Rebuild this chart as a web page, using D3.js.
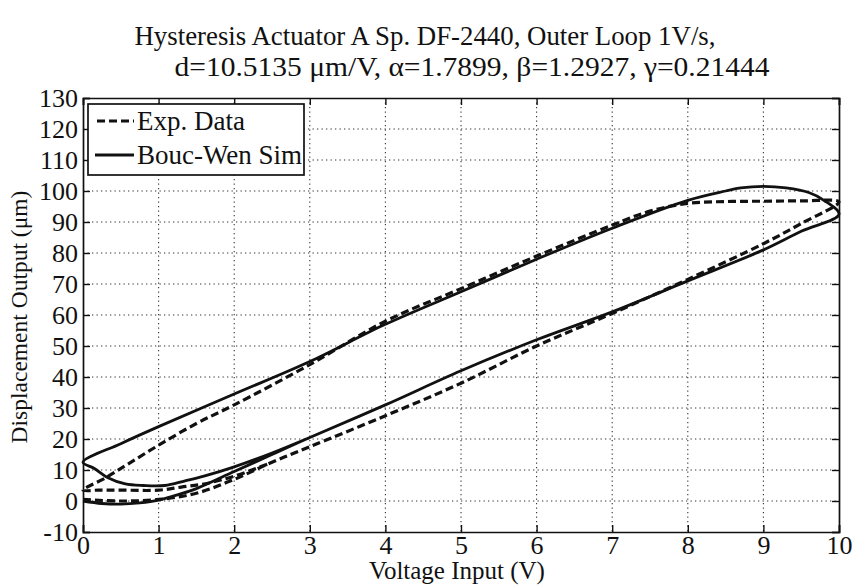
<!DOCTYPE html>
<html>
<head>
<meta charset="utf-8">
<script src="https://cdn.jsdelivr.net/npm/d3@7/dist/d3.min.js"></script>
<style>
  html, body { margin: 0; padding: 0; background: #ffffff; }
  svg { display: block; }
  svg text { font-family: "Liberation Serif", Tinos, "Times New Roman", Times, "DejaVu Serif", "Noto Serif", serif !important; fill: #111; }
</style>
</head>
<body>
<svg id="chart" width="855" height="585"></svg>
<script>
// ---- Data ----
const titleLines = [
  "Hysteresis Actuator A Sp. DF-2440, Outer Loop 1V/s,",
  "d=10.5135 \u03BCm/V, \u03B1=1.7899, \u03B2=1.2927, \u03B3=0.21444"
];
const xLabel = "Voltage Input (V)";
const yLabel = "Displacement Output (\u03BCm)";
const xTicks = [0, 1, 2, 3, 4, 5, 6, 7, 8, 9, 10];
const yTicks = [-10, 0, 10, 20, 30, 40, 50, 60, 70, 80, 90, 100, 110, 120, 130];
const seriesNames = ["Exp. Data", "Bouc-Wen Sim"];

// Experimental data (dashed): lower branch up, upper branch down, start of second ascent
const expX = [0, 0.5, 1, 1.5, 2, 2.5, 3, 4, 5, 6, 7, 8, 9, 9.5, 10,
              9.5, 9, 8.5, 8, 7.5, 7, 6, 5, 4, 3, 2, 1.5, 1, 0.6, 0.3, 0,
              0.2, 0.5, 1, 1.3, 1.6, 2, 2.5];
const expY = [0.5, 0, 0.5, 2.5, 7, 12.5, 17.5, 27.5, 38, 50, 60.5, 71.5, 83, 89.5, 96.5,
              96.8, 96.7, 96.6, 96, 93.5, 89, 79, 68.5, 58, 44, 31, 25, 18, 12, 7.5, 3.5,
              3.5, 3.5, 3.5, 4.5, 5.5, 8, 12.5];

// Bouc-Wen simulation (solid)
const simX = [0, 0.25, 0.5, 0.75, 1, 1.25, 1.5, 2, 2.5, 3, 4, 5, 6, 7, 8, 9, 9.5, 10,
              9.8, 9.6, 9.3, 9, 8.7, 8.5, 8, 7, 6, 5, 4, 3, 2, 1, 0.5, 0,
              0.15, 0.33, 0.56, 0.8, 1.08, 1.35, 1.6, 2, 2.5, 3];
const simY = [0, -0.8, -1, -0.6, 0.3, 2, 4, 9.5, 15, 20.5, 31, 42, 52, 61, 71, 81, 87, 92.5,
              97, 99.5, 101, 101.5, 101, 100, 97, 88, 78, 67.5, 57, 45, 34.5, 24, 18.5, 12.5,
              10.5, 7.5, 5.5, 5, 5, 6.5, 8, 11, 15.5, 20.5];

// ---- Layout ----
const FONT = '"Liberation Serif", Tinos, "Times New Roman", Times, "DejaVu Serif", serif';
const svg = d3.select("#chart");
const L = 83, T = 98, R = 839, B = 532;
const x = d3.scaleLinear().domain([0, 10]).range([L, R]);
const y = d3.scaleLinear().domain([-10, 130]).range([B, T]);

// Grid
const grid = svg.append("g").attr("stroke", "#333").attr("stroke-width", 1.1)
  .attr("stroke-dasharray", "1.3,3.2");
grid.selectAll(".gx").data(xTicks.slice(1, -1)).enter().append("line")
  .attr("x1", d => x(d)).attr("x2", d => x(d)).attr("y1", T).attr("y2", B);
grid.selectAll(".gy").data(yTicks.slice(1, -1)).enter().append("line")
  .attr("x1", L).attr("x2", R).attr("y1", d => y(d)).attr("y2", d => y(d));

// Axes (ticks inward, MATLAB style)
const tickLen = 7;
const fs = 26;
const fmt = d => String(d).replace("\u2212", "-");
const axB = svg.append("g").attr("transform", `translate(0,${B})`)
  .call(d3.axisBottom(x).tickValues(xTicks).tickSize(-tickLen).tickPadding(3).tickFormat(fmt));
const axT = svg.append("g").attr("transform", `translate(0,${T})`)
  .call(d3.axisTop(x).tickValues(xTicks).tickSize(-tickLen).tickFormat(""));
const axL = svg.append("g").attr("transform", `translate(${L},0)`)
  .call(d3.axisLeft(y).tickValues(yTicks).tickSize(-tickLen).tickPadding(5).tickFormat(fmt));
const axR = svg.append("g").attr("transform", `translate(${R},0)`)
  .call(d3.axisRight(y).tickValues(yTicks).tickSize(-tickLen).tickFormat(""));
[axB, axT, axL, axR].forEach(a => {
  a.attr("font-family", FONT);
  a.select(".domain").attr("stroke", "#111").attr("stroke-width", 1.7);
  a.selectAll(".tick line").attr("stroke", "#111").attr("stroke-width", 1.4);
  a.selectAll(".tick text").attr("font-family", FONT)
    .style("font-size", fs + "px").attr("fill", "#111");
});
axB.selectAll(".tick text").attr("dy", "0.72em");
axL.selectAll(".tick text").attr("dy", "0.33em");

// Curves
const line = d3.line().x(d => x(d[0])).y(d => y(d[1])).curve(d3.curveCatmullRom.alpha(0.5));
const expPts = expX.map((v, i) => [v, expY[i]]);
const simPts = simX.map((v, i) => [v, simY[i]]);
svg.append("path").datum(simPts).attr("d", line)
  .attr("fill", "none").attr("stroke", "#111").attr("stroke-width", 2.8);
svg.append("path").datum(expPts).attr("d", line)
  .attr("fill", "none").attr("stroke", "#111").attr("stroke-width", 3.2)
  .attr("stroke-dasharray", "8,4");

// Legend
const lg = svg.append("g");
lg.append("rect").attr("x", 88).attr("y", 104).attr("width", 216).attr("height", 71)
  .attr("fill", "#fff").attr("stroke", "#111").attr("stroke-width", 1.7);
const legY = [121, 155];
lg.append("line").attr("x1", 97).attr("x2", 134).attr("y1", legY[0]).attr("y2", legY[0])
  .attr("stroke", "#111").attr("stroke-width", 3.2).attr("stroke-dasharray", "8,4");
lg.append("line").attr("x1", 95).attr("x2", 134).attr("y1", legY[1]).attr("y2", legY[1])
  .attr("stroke", "#111").attr("stroke-width", 2.8);
seriesNames.forEach((n, i) => {
  lg.append("text").attr("x", 137).attr("y", legY[i]).attr("dy", "0.33em")
    .attr("font-family", FONT).style("font-size", "27px").text(n);
});

// Title
svg.append("text").attr("x", 425).attr("y", 45).attr("text-anchor", "middle")
  .attr("font-family", FONT).style("font-size", "27px")
  .attr("textLength", 581).attr("lengthAdjust", "spacingAndGlyphs").text(titleLines[0]);
svg.append("text").attr("x", 472).attr("y", 76).attr("text-anchor", "middle")
  .attr("font-family", FONT).style("font-size", "27px")
  .attr("textLength", 595).attr("lengthAdjust", "spacingAndGlyphs").text(titleLines[1]);

// Axis labels
svg.append("text").attr("x", 457).attr("y", 579).attr("text-anchor", "middle")
  .attr("font-family", FONT).style("font-size", "25px").text(xLabel);
svg.append("text").attr("transform", `translate(27,317) rotate(-90)`)
  .attr("text-anchor", "middle").attr("font-family", FONT).style("font-size", "23.5px").text(yLabel);
</script>
</body>
</html>
